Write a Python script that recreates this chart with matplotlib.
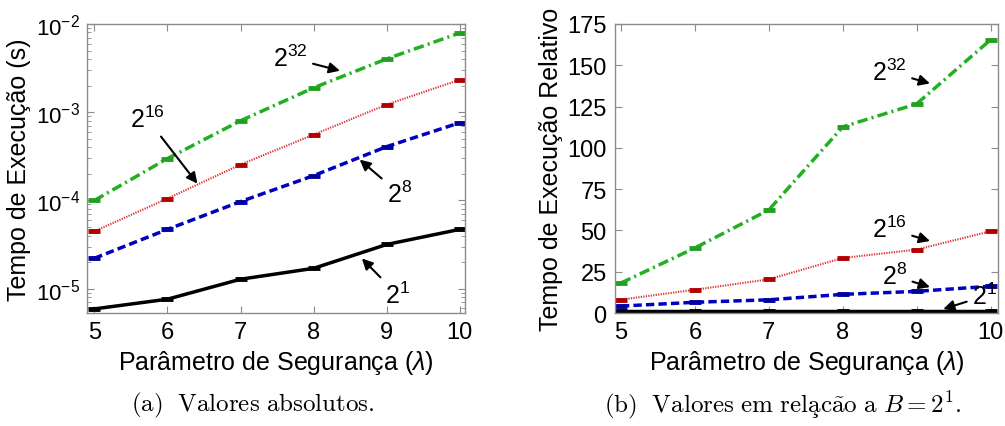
import numpy as np
import matplotlib
matplotlib.use("Agg")
import matplotlib.pyplot as plt

plt.rcParams['font.family'] = ['Liberation Sans', 'DejaVu Sans']
plt.rcParams['mathtext.fontset'] = 'custom'
plt.rcParams['mathtext.rm'] = 'Liberation Sans'
plt.rcParams['mathtext.it'] = 'Liberation Sans:italic'
plt.rcParams['mathtext.bf'] = 'Liberation Sans:bold'

# parâmetro de segurança
lam = [5, 6, 7, 8, 9, 10]

# tempo absoluto (s) para cada base B
t_b1 = [5.9e-6, 7.6e-6, 1.28e-5, 1.7e-5, 3.17e-5, 4.7e-5]
t_b8 = [2.21e-5, 4.7e-5, 9.7e-5, 1.91e-4, 4.07e-4, 7.6e-4]
t_b16 = [4.47e-5, 1.05e-4, 2.55e-4, 5.57e-4, 1.22e-3, 2.33e-3]
t_b32 = [1.0e-4, 2.98e-4, 8.0e-4, 1.89e-3, 4.02e-3, 7.9e-3]

# tempo relativo a B = 2^1
r_b1 = [1, 1, 1, 1, 1, 1]
r_b8 = [4.2, 6.5, 8.0, 11.3, 13.1, 16.2]
r_b16 = [8.1, 14.1, 20.4, 33.3, 38.4, 49.5]
r_b32 = [18.2, 39.4, 62.4, 112.7, 126.6, 165.4]

labels = [r'$2^{1}$', r'$2^{8}$', r'$2^{16}$', r'$2^{32}$']

FS = 17
LFS = 18
GRAY = '#8c8c8c'

fig = plt.figure(figsize=(10.05, 4.27), dpi=100)
ax1 = fig.add_axes([0.0866, 0.2646, 0.376, 0.677])
ax2 = fig.add_axes([0.612, 0.2646, 0.381, 0.677])

styles = [
    dict(color='black', ls='-', lw=2.5, mfc='black', mec='black'),
    dict(color='#0000c0', dashes=(2.4, 1.2), lw=2.5, mfc='#0000a0', mec='#0000a0'),
    dict(color='#e03030', ls=(0, (0.6, 0.6)), lw=1.5, mfc='#b00000', mec='#b00000'),
    dict(color='#22b022', dashes=(3.0, 1.2, 0.6, 1.2), lw=2.5, mfc='#22a022', mec='#22a022'),
]


def draw(ax, series):
    for ys, st in zip(series, styles):
        ax.plot(lam, ys, marker='_', ms=8, mew=3.5, **st)


def style_axes(ax):
    for sp in ax.spines.values():
        sp.set_color(GRAY)
        sp.set_linewidth(1.0)
    ax.tick_params(which='both', direction='in', top=True, right=True,
                   color=GRAY, labelsize=FS, pad=6)
    ax.tick_params(which='major', length=5)
    ax.tick_params(which='minor', length=3)
    ax.set_xticks(lam)
    ax.set_xlabel(r'Parâmetro de Segurança ($\lambda$)', fontsize=LFS, labelpad=3)


arrow = dict(arrowstyle='-|>', color='black', lw=1.5, mutation_scale=16,
             shrinkA=2, shrinkB=0)

# (a) valores absolutos
draw(ax1, [t_b1, t_b8, t_b16, t_b32])
ax1.set_yscale('log')
ax1.set_xlim(4.9, 10.07)
ax1.set_ylim(5.3e-6, 1e-2)
style_axes(ax1)
ax1.tick_params(axis='y', labelsize=16, pad=5)
ax1.set_ylabel('Tempo de Execução (s)', fontsize=LFS)
ax1.yaxis.set_label_coords(-0.148, 0.5)

ann1 = [
    (labels[3], (7.68, 4.13e-3), (8.36, 2.95e-3)),
    (labels[2], (5.72, 8.5e-4), (6.41, 1.55e-4)),
    (labels[1], (9.17, 1.2e-4), (8.63, 2.9e-4)),
    (labels[0], (9.15, 8.5e-6), (8.66, 2.2e-5)),
]
for txt, xytext, xy in ann1:
    ax1.annotate(txt, xy=xy, xytext=xytext, fontsize=LFS, ha='center',
                 va='center', arrowprops=arrow)

# (b) valores relativos
draw(ax2, [r_b1, r_b8, r_b16, r_b32])
ax2.set_xlim(4.92, 10.1)
ax2.set_ylim(0, 175)
ax2.set_yticks(np.arange(0, 176, 25))
style_axes(ax2)
ax2.set_ylabel('Tempo de Execução Relativo', fontsize=LFS)
ax2.yaxis.set_label_coords(-0.136, 0.5)

ann2 = [
    (labels[3], (8.63, 146), (9.18, 139)),
    (labels[2], (8.63, 50.9), (9.18, 43.6)),
    (labels[1], (8.70, 22.4), (9.18, 15.7)),
    (labels[0], (9.92, 10.3), (9.36, 2.4)),
]
for txt, xytext, xy in ann2:
    ax2.annotate(txt, xy=xy, xytext=xytext, fontsize=LFS, ha='center',
                 va='center', arrowprops=arrow)

# legendas das subfiguras em Computer Modern
cap = dict(fontsize=18, math_fontfamily='cm', ha='center', va='center')
fig.text(253 / 1005, 1 - 405 / 427,
         r'$\mathrm{(a)\ \ Valores\ absolutos.}$', **cap)
fig.text(783 / 1005, 1 - 405 / 427,
         r'$\mathrm{(b)\ \ Valores\ em\ rela\c{c}\~ao\ a\ }B = 2^1\mathrm{.}$', **cap)

fig.savefig('out.png', dpi=100)
